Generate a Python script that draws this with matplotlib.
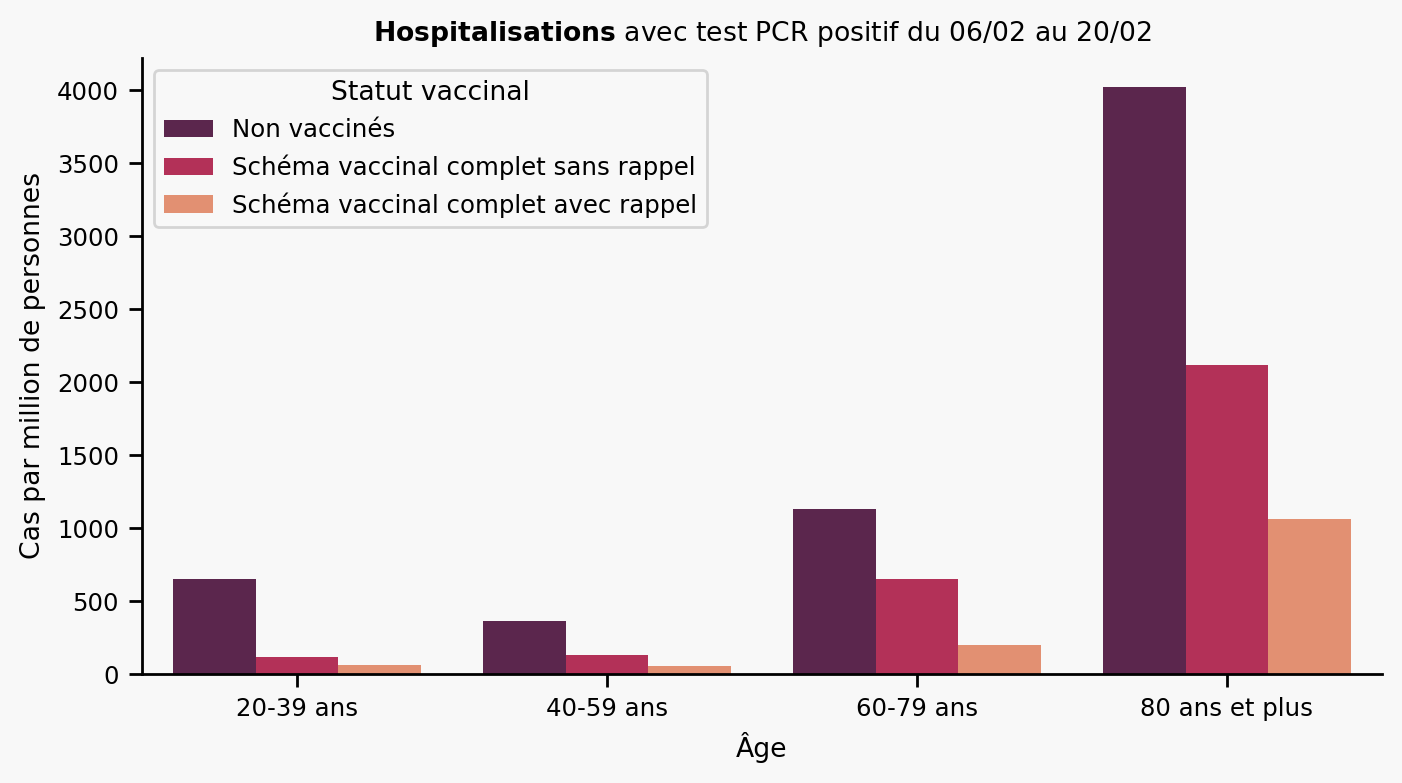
import matplotlib.pyplot as plt
import numpy as np

ages = ['20-39 ans', '40-59 ans', '60-79 ans', '80 ans et plus']
statuts = ['Non vaccinés', 'Schéma vaccinal complet sans rappel', 'Schéma vaccinal complet avec rappel']
non_vacc = [651, 363, 1130, 4021]
sans_rappel = [116, 130, 651, 2116]
avec_rappel = [62, 55, 199, 1062]
couleurs = ['#5b264d', '#b33158', '#e29072']

bg = '#f8f8f8'
plt.rcParams['font.family'] = 'DejaVu Sans'

fig = plt.figure(figsize=(7.01, 3.915), dpi=200, facecolor=bg)
ax = fig.add_axes([0.1013, 0.1392, 0.8844, 0.7868], facecolor=bg)

x = np.arange(len(ages))
w = 0.8 / 3
for i, (vals, lab) in enumerate(zip([non_vacc, sans_rappel, avec_rappel], statuts)):
    ax.bar(x + (i - 1) * w, vals, width=w, color=couleurs[i], label=lab)

ax.set_xlim(-0.5, 3.5)
ax.set_xticks(x)
ax.set_xticklabels(ages)
ax.tick_params(labelsize=8.8, length=4.8, width=1)
ax.set_xlabel('Âge', fontsize=9.6)
ax.set_ylabel('Cas par million de personnes', fontsize=9.6)
ax.set_title(r'$\bf{Hospitalisations}$ avec test PCR positif du 06/02 au 20/02', fontsize=9.6)
ax.spines['top'].set_visible(False)
ax.spines['right'].set_visible(False)
ax.spines['left'].set_linewidth(1)
ax.spines['bottom'].set_linewidth(1)

leg = ax.legend(title='Statut vaccinal', loc='upper left', fontsize=8.8, title_fontsize=9.6,
                facecolor=bg, edgecolor='#cccccc')

fig.savefig('out.png', dpi=200, facecolor=bg)
